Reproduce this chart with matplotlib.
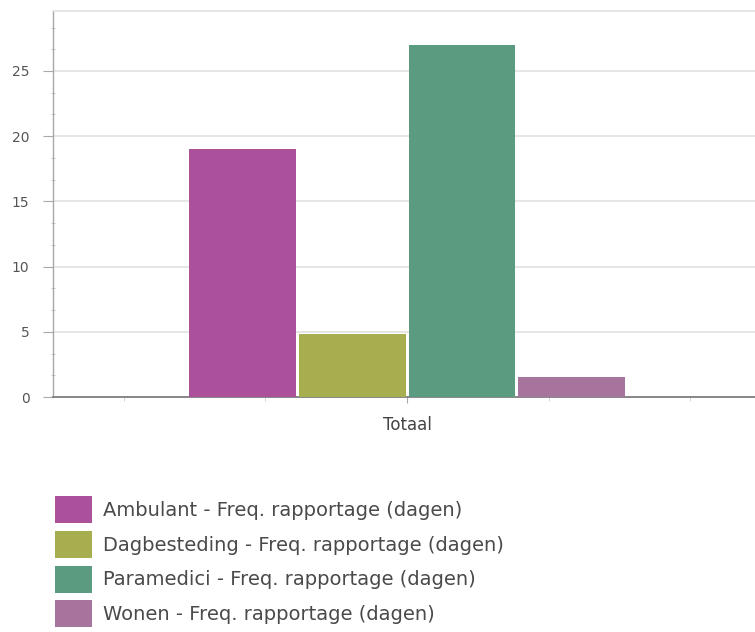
import matplotlib.pyplot as plt
from matplotlib.patches import Patch
from matplotlib.ticker import MultipleLocator, FixedLocator

plt.rcParams['font.family'] = ['DejaVu Sans']

# afdelingen en frequentie rapportage (dagen)
series = ["Ambulant - Freq. rapportage (dagen)",
          "Dagbesteding - Freq. rapportage (dagen)",
          "Paramedici - Freq. rapportage (dagen)",
          "Wonen - Freq. rapportage (dagen)"]
values = [19.0, 4.8, 27.0, 1.5]
categories = ["Totaal"]
colors = ["#AB519B", "#A6AE4F", "#5B9C80", "#A7749E"]

fig = plt.figure(figsize=(7.55, 6.32), dpi=100)
ax = fig.add_axes([0.0702, 0.3718, 0.938, 0.6108])

bar_w = 0.151
step = 0.155
n = len(series)
for i, (v, c) in enumerate(zip(values, colors)):
    x = (i - (n - 1) / 2) * step
    ax.bar(x, v, width=bar_w, color=c, edgecolor='none', zorder=3)

ax.set_xlim(-0.5, 0.5)
ax.set_ylim(0, 29.6)

# assen en raster
ax.yaxis.set_major_locator(MultipleLocator(5))
ax.yaxis.set_minor_locator(MultipleLocator(5 / 3))
ax.set_xticks([0])
ax.set_xticklabels(categories)
ax.xaxis.set_minor_locator(FixedLocator([-0.4, -0.2, 0.2, 0.4]))
ax.grid(axis='y', color='#E2E2E2', linewidth=1.2, zorder=0)

ax.spines['right'].set_visible(False)
ax.spines['top'].set_color('#E2E2E2')
ax.spines['top'].set_linewidth(1.2)
ax.spines['left'].set_color('#A8A8A8')
ax.spines['bottom'].set_color('#7E7E7E')
ax.spines['left'].set_linewidth(1.0)
ax.spines['bottom'].set_linewidth(1.3)

ax.tick_params(axis='y', which='major', length=7, color='#A8A8A8',
               labelsize=10, labelcolor='#555555', pad=10)
ax.tick_params(axis='y', which='minor', length=3, direction='inout',
               color='#BBBBBB')
ax.tick_params(axis='x', which='major', length=4, color='#A8A8A8',
               labelsize=12, labelcolor='#444444', pad=10)
ax.tick_params(axis='x', which='minor', length=3, color='#CCCCCC')

# legenda onder de grafiek
handles = [Patch(facecolor=c, edgecolor='none') for c in colors]
fig.legend(handles, series, loc='upper left',
           bbox_to_anchor=(0.0728, 0.2152), frameon=False, borderpad=0,
           borderaxespad=0, fontsize=14, handleheight=1.76,
           handlelength=1.9, labelspacing=0.40, handletextpad=0.57,
           labelcolor='#4A4A4A')

fig.savefig('out.png', dpi=100)
